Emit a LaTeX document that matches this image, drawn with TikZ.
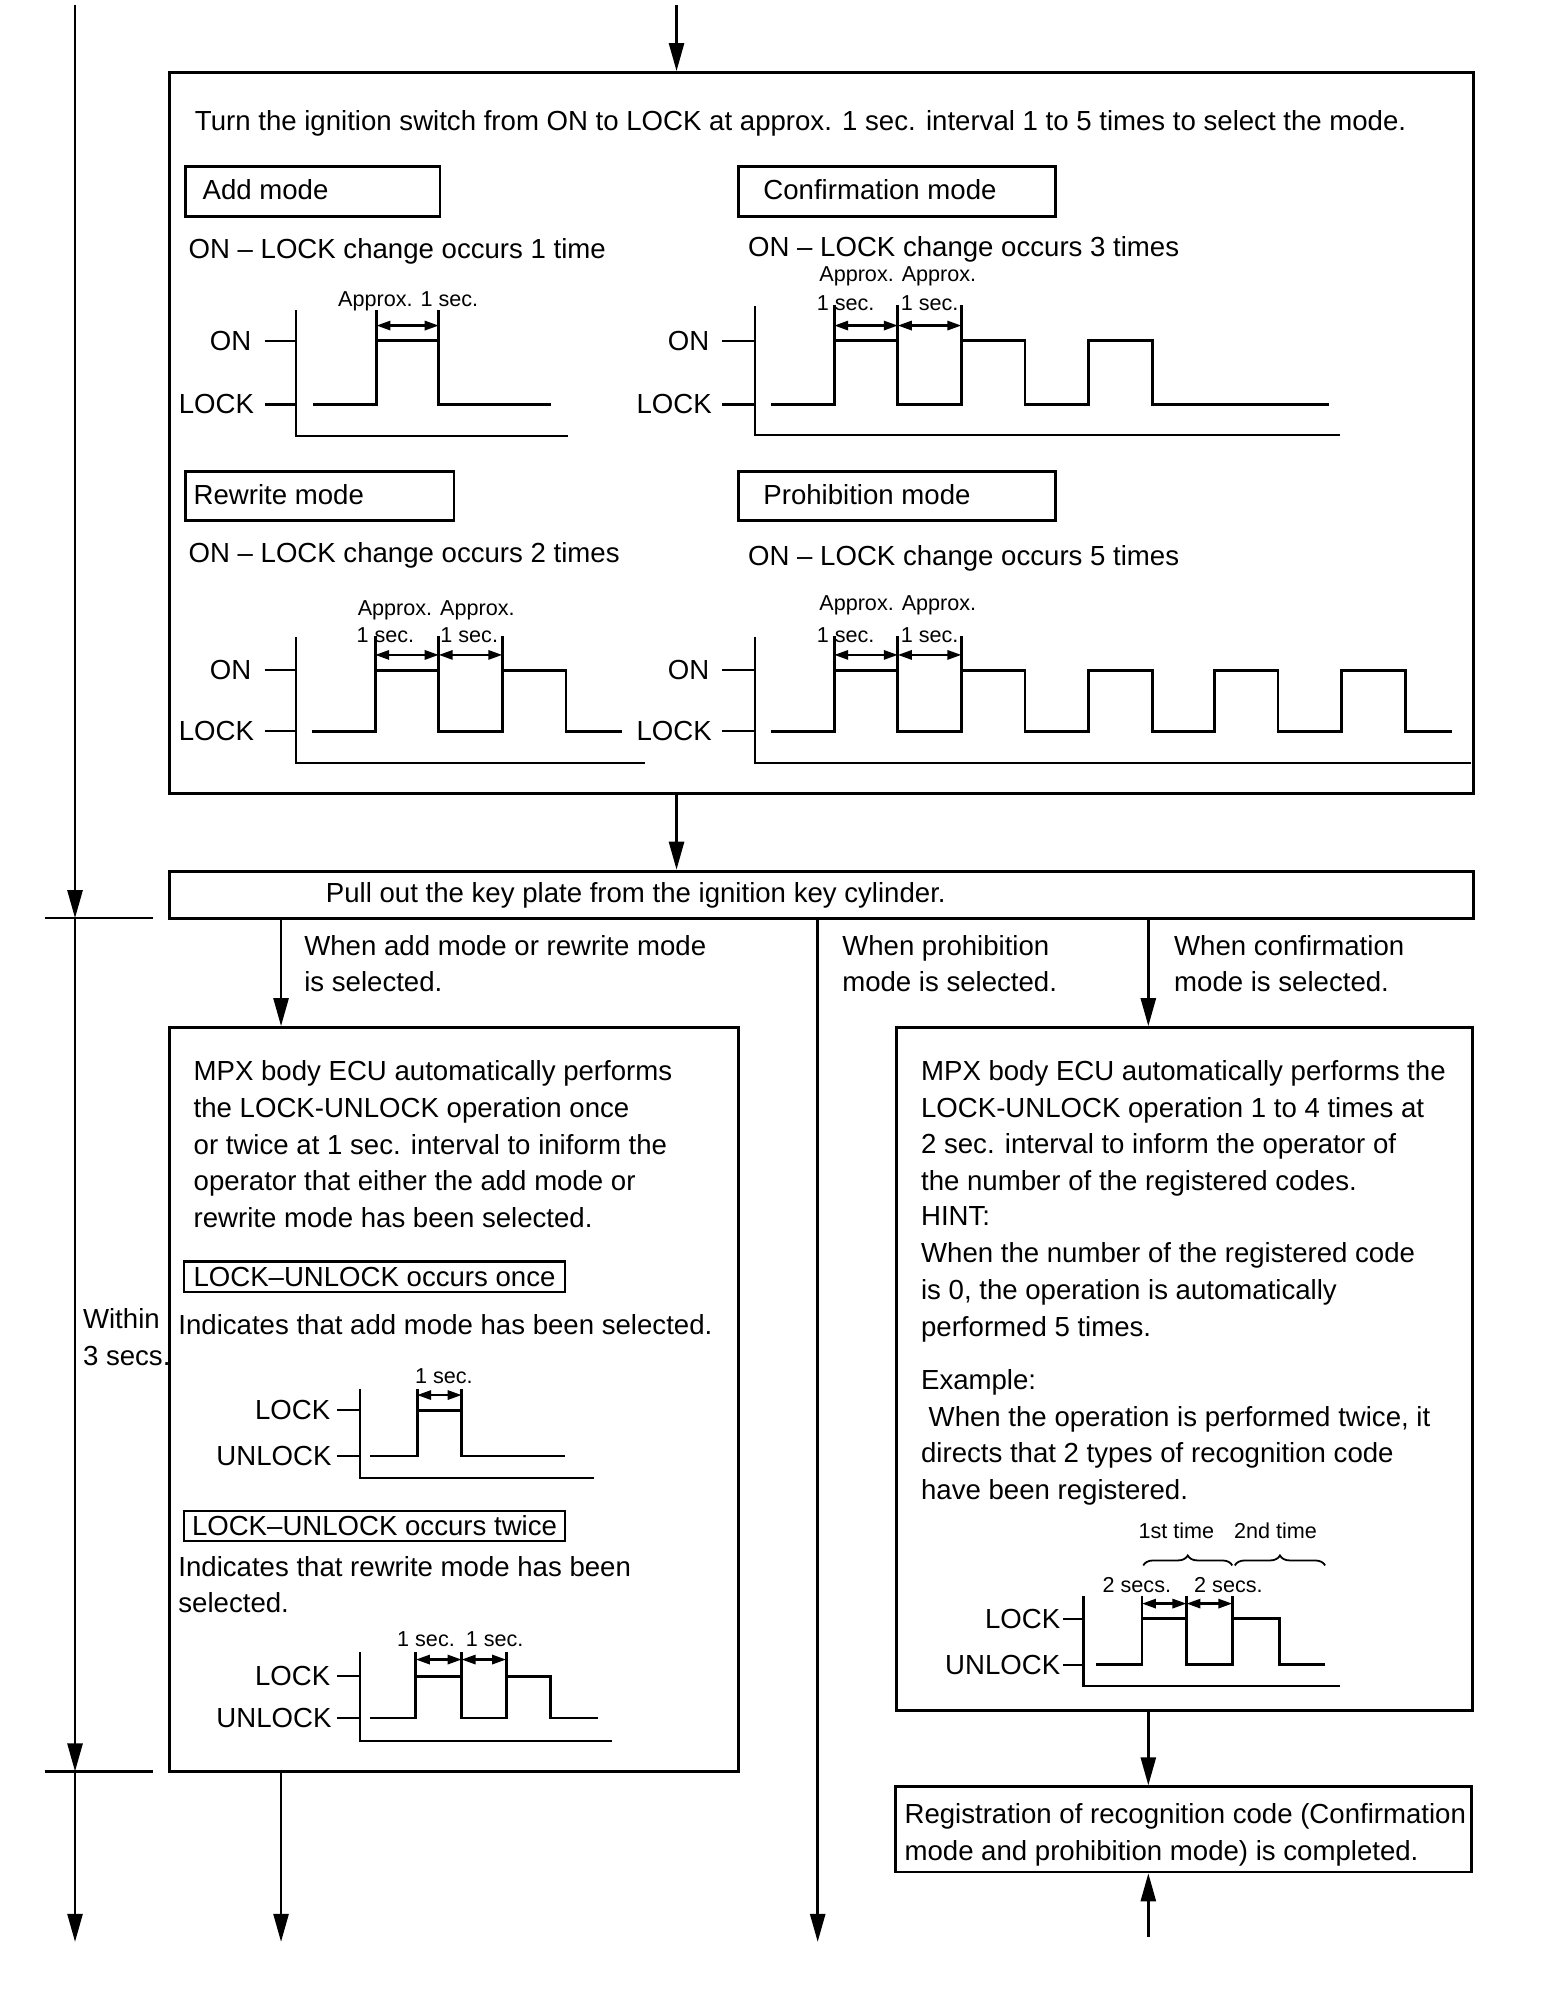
\documentclass[tikz,border=0pt]{standalone}
\usepackage{fontspec}
\setmainfont{Liberation Sans}
\usetikzlibrary{arrows.meta,fit,decorations.pathreplacing}
\begin{document}
\begin{tikzpicture}[x=0.6359pt,y=-0.6359pt,
  box/.style={draw,line width=1.4pt,inner sep=0pt},
  txt/.style={inner sep=0pt,font=\fontsize{13.8}{16}\selectfont},
  sm/.style={inner sep=0pt,font=\fontsize{10.8}{13}\selectfont},
  arr/.style={line width=1.3pt,-{Triangle[length=14pt,width=7.5pt]}},
  sig/.style={line width=1.4pt},
  ax/.style={line width=1.1pt},
  dimarr/.style={line width=1.2pt,{Triangle[length=7pt,width=4.6pt]}-{Triangle[length=7pt,width=4.6pt]}},
  brc/.style={line width=0.9pt,decorate,decoration={brace,amplitude=5pt}},
]
\fill[white] (0,0) rectangle (1233,1568);
\useasboundingbox (0,0) rectangle (1233,1568);

% ---------- main boxes ----------
\node[box,fit={(133,57) (1159,624)}] (topbox) {};
\node[box,fit={(133,685) (1159,722)}] (pullbox) {};
\node[box,fit={(133,808) (581,1393)}] (leftbox) {};
\node[box,fit={(705,808) (1158,1345)}] (rightbox) {};
\node[box,fit={(704,1405) (1157,1472)}] (regbox) {};

% ---------- connectors ----------
\coordinate (topin) at (532,4);
\coordinate (cA) at (221,0);
\coordinate (cP) at (643,0);
\coordinate (cC) at (903,0);
\coordinate (lefttop) at (59,4);
\coordinate (leftmid1) at (59,722);
\coordinate (leftmid2) at (59,1393);
\coordinate (leftbot) at (59,1527);
\coordinate (abot) at (221,1527);
\coordinate (pbot) at (643,1527);
\coordinate (regin) at (903,1523);

\draw[arr] (topin) -- (topin |- topbox.north);
\draw[arr] (topin |- topbox.south) -- (topin |- pullbox.north);
\draw[arr] (cA |- pullbox.south) -- (cA |- leftbox.north);
\draw[arr] (cC |- pullbox.south) -- (cC |- rightbox.north);
\draw[arr] (cP |- pullbox.south) -- (pbot);
\draw[arr] (cA |- leftbox.south) -- (abot);
\draw[arr] (cC |- rightbox.south) -- (cC |- regbox.north);
\draw[arr] (regin) -- (regin |- regbox.south);
\draw[arr] (lefttop) -- (leftmid1);
\draw[arr] (leftmid1) -- (leftmid2);
\draw[arr] (leftmid2) -- (leftbot);
\draw[line width=1.1pt] (35,722) -- (120,722);
\draw[line width=1.1pt] (35,1393) -- (120,1393);

\node[txt,anchor=base west] (within1) at (65,1045) {Within};
\node[txt,anchor=base west] (within2) at (65,1074) {3 secs.};

% ---------- top box content ----------
\node[txt,anchor=base west] (title) at (153,103) {Turn the ignition switch from ON to LOCK at approx. 1 sec. interval 1 to 5 times to select the mode.};

\node[box,fit={(146,131) (346,170)}] (addbox) {};
\node[txt,anchor=base west] (addlbl) at (159,157) {Add mode};
\node[box,fit={(581,131) (830,170)}] (confbox) {};
\node[txt,anchor=base west] (conflbl) at (600,157) {Confirmation mode};
\node[txt,anchor=base west] (addocc) at (148,203) {ON – LOCK change occurs 1 time};
\node[txt,anchor=base west] (confocc) at (588,202) {ON – LOCK change occurs 3 times};

\node[box,fit={(146,371) (357,409)}] (rwbox) {};
\node[txt,anchor=base west] (rwlbl) at (152,397) {Rewrite mode};
\node[box,fit={(581,371) (830,409)}] (prbox) {};
\node[txt,anchor=base west] (prlbl) at (600,397) {Prohibition mode};
\node[txt,anchor=base west] (rwocc) at (148,442) {ON – LOCK change occurs 2 times};
\node[txt,anchor=base west] (procc) at (588,445) {ON – LOCK change occurs 5 times};

% Add mode chart
\node[txt,anchor=east] (aon) at (198,268) {ON};
\node[txt,anchor=east] (alock) at (200,318) {LOCK};
\draw[ax] (208,268) -- (233,268) (208,318) -- (233,318);
\draw[ax] (233,244) -- (233,343) -- (447,343);
\draw[sig] (246,318) -- (296,318) -- (296,244) (296,268) -- (345,268) (345,244) -- (345,318) -- (433,318);
\draw[dimarr] (296,256) -- (345,256);
\node[sm,anchor=base] (aapx) at (321,241) {Approx. 1 sec.};

% Confirmation chart
\node[txt,anchor=east] (con) at (558,268) {ON};
\node[txt,anchor=east] (clock) at (560,318) {LOCK};
\draw[ax] (568,268) -- (594,268) (568,318) -- (594,318);
\draw[ax] (594,241) -- (594,342) -- (1054,342);
\draw[sig] (606,318) -- (656,318) -- (656,240) (656,268) -- (706,268) (706,240) -- (706,318) -- (756,318) -- (756,240)
  (756,268) -- (806,268) -- (806,318) -- (856,318) -- (856,268) -- (906,268) -- (906,318) -- (1045,318);
\draw[dimarr] (656,256) -- (706,256);
\draw[dimarr] (706,256) -- (756,256);
\node[sm,anchor=base] (capx) at (706,221) {Approx. Approx.};
\node[sm,anchor=base] (cs1) at (665,244) {1 sec.};
\node[sm,anchor=base] (cs2) at (731,244) {1 sec.};

% Rewrite chart
\node[txt,anchor=east] (ron) at (198,527) {ON};
\node[txt,anchor=east] (rlock) at (200,575) {LOCK};
\draw[ax] (208,527) -- (233,527) (208,575) -- (233,575);
\draw[ax] (233,501) -- (233,600) -- (507,600);
\draw[sig] (245,575) -- (295,575) -- (295,500) (295,527) -- (345,527) (345,500) -- (345,575) -- (395,575) -- (395,500)
  (395,527) -- (445,527) -- (445,575) -- (489,575);
\draw[dimarr] (295,515) -- (345,515);
\draw[dimarr] (345,515) -- (395,515);
\node[sm,anchor=base] (rapx) at (343,484) {Approx. Approx.};
\node[sm,anchor=base] (rs1) at (303,505) {1 sec.};
\node[sm,anchor=base] (rs2) at (369,505) {1 sec.};

% Prohibition chart
\node[txt,anchor=east] (pon) at (558,527) {ON};
\node[txt,anchor=east] (plock) at (560,575) {LOCK};
\draw[ax] (568,527) -- (594,527) (568,575) -- (594,575);
\draw[ax] (594,501) -- (594,600) -- (1157,600);
\draw[sig] (606,575) -- (656,575) -- (656,500) (656,527) -- (706,527) (706,500) -- (706,575) -- (756,575) -- (756,500)
  (756,527) -- (806,527) -- (806,575) -- (856,575) -- (856,527) -- (906,527) -- (906,575) -- (955,575) -- (955,527)
  -- (1005,527) -- (1005,575) -- (1055,575) -- (1055,527) -- (1105,527) -- (1105,575) -- (1142,575);
\draw[dimarr] (656,515) -- (706,515);
\draw[dimarr] (706,515) -- (756,515);
\node[sm,anchor=base] (papx) at (706,480) {Approx. Approx.};
\node[sm,anchor=base] (ps1) at (665,505) {1 sec.};
\node[sm,anchor=base] (ps2) at (731,505) {1 sec.};

% ---------- pull box ----------
\node[txt,anchor=base west] (pulltxt) at (256,710) {Pull out the key plate from the ignition key cylinder.};
\node[txt,anchor=base west] (wa1) at (239,751) {When add mode or rewrite mode};
\node[txt,anchor=base west] (wa2) at (239,780) {is selected.};
\node[txt,anchor=base west] (wp1) at (662,751) {When prohibition};
\node[txt,anchor=base west] (wp2) at (662,780) {mode is selected.};
\node[txt,anchor=base west] (wc1) at (923,751) {When confirmation};
\node[txt,anchor=base west] (wc2) at (923,780) {mode is selected.};

% ---------- left box ----------
\node[txt,anchor=base west] (l1) at (152,850) {MPX body ECU automatically performs};
\node[txt,anchor=base west] (l2) at (152,879) {the LOCK-UNLOCK operation once};
\node[txt,anchor=base west] (l3) at (152,908) {or twice at 1 sec. interval to iniform the};
\node[txt,anchor=base west] (l4) at (152,936) {operator that either the add mode or};
\node[txt,anchor=base west] (l5) at (152,965) {rewrite mode has been selected.};

\node[box,line width=1.1pt,fit={(145,992) (444,1016)}] (oncebox) {};
\node[txt] (oncetxt) at (oncebox.center) {LOCK–UNLOCK occurs once};
\node[txt,anchor=base west] (ind1) at (140,1049) {Indicates that add mode has been selected.};

\node[txt,anchor=east] (d1lock) at (260,1109) {LOCK};
\node[txt,anchor=east] (d1unlock) at (261,1145) {UNLOCK};
\draw[ax] (265,1109) -- (283,1109) (265,1145) -- (283,1145);
\draw[ax] (283,1092) -- (283,1162) -- (467,1162);
\draw[sig] (291,1145) -- (328,1145) -- (328,1092) (328,1109) -- (363,1109) (363,1092) -- (363,1145) -- (444,1145);
\draw[dimarr] (328,1097) -- (363,1097);
\node[sm,anchor=base] (d1s) at (349,1088) {1 sec.};

\node[box,line width=1.1pt,fit={(145,1188) (444,1212)}] (twicebox) {};
\node[txt] (twicetxt) at (twicebox.center) {LOCK–UNLOCK occurs twice};
\node[txt,anchor=base west] (ind2) at (140,1240) {Indicates that rewrite mode has been};
\node[txt,anchor=base west] (ind3) at (140,1268) {selected.};

\node[txt,anchor=east] (d2lock) at (260,1318) {LOCK};
\node[txt,anchor=east] (d2unlock) at (261,1351) {UNLOCK};
\draw[ax] (265,1318) -- (283,1318) (265,1351) -- (283,1351);
\draw[ax] (283,1299) -- (283,1369) -- (481,1369);
\draw[sig] (291,1351) -- (327,1351) -- (327,1299) (327,1318) -- (363,1318) (363,1299) -- (363,1351) -- (398,1351) -- (398,1299)
  (398,1318) -- (433,1318) -- (433,1351) -- (470,1351);
\draw[dimarr] (327,1305) -- (363,1305);
\draw[dimarr] (363,1305) -- (398,1305);
\node[sm,anchor=base] (d2s1) at (335,1295) {1 sec.};
\node[sm,anchor=base] (d2s2) at (389,1295) {1 sec.};

% ---------- right box ----------
\node[txt,anchor=base west] (r1) at (724,850) {MPX body ECU automatically performs the};
\node[txt,anchor=base west] (r2) at (724,879) {LOCK-UNLOCK operation 1 to 4 times at};
\node[txt,anchor=base west] (r3) at (724,907) {2 sec. interval to inform the operator of};
\node[txt,anchor=base west] (r4) at (724,936) {the number of the registered codes.};
\node[txt,anchor=base west] (r5) at (724,964) {HINT:};
\node[txt,anchor=base west] (r6) at (724,993) {When the number of the registered code};
\node[txt,anchor=base west] (r7) at (724,1022) {is 0, the operation is automatically};
\node[txt,anchor=base west] (r8) at (724,1051) {performed 5 times.};
\node[txt,anchor=base west] (r9) at (724,1093) {Example:};
\node[txt,anchor=base west] (r10) at (730,1122) {When the operation is performed twice, it};
\node[txt,anchor=base west] (r11) at (724,1150) {directs that 2 types of recognition code};
\node[txt,anchor=base west] (r12) at (724,1179) {have been registered.};

\node[sm,anchor=base] (t1st) at (925,1210) {1st time};
\node[sm,anchor=base] (t2nd) at (1003,1210) {2nd time};
\draw[brc] (899,1231) -- (969,1231);
\draw[brc] (971,1231) -- (1042,1231);
\node[sm,anchor=base] (s2a) at (894,1252) {2 secs.};
\node[sm,anchor=base] (s2b) at (966,1252) {2 secs.};
\node[txt,anchor=east] (rlk) at (834,1273) {LOCK};
\node[txt,anchor=east] (runlk) at (834,1309) {UNLOCK};
\draw[ax] (836,1273) -- (852,1273) (836,1309) -- (852,1309);
\draw[ax] (852,1255) -- (852,1326) -- (1054,1326);
\draw[sig] (862,1309) -- (898,1309) -- (898,1255) (898,1273) -- (933,1273) (933,1255) -- (933,1309) -- (969,1309) -- (969,1255)
  (969,1273) -- (1006,1273) -- (1006,1309) -- (1042,1309);
\draw[dimarr] (898,1261) -- (933,1261);
\draw[dimarr] (933,1261) -- (969,1261);

% ---------- registration box ----------
\node[txt,anchor=base west] (g1) at (711,1434) {Registration of recognition code (Confirmation};
\node[txt,anchor=base west] (g2) at (711,1463) {mode and prohibition mode) is completed.};
\end{tikzpicture}
\end{document}
